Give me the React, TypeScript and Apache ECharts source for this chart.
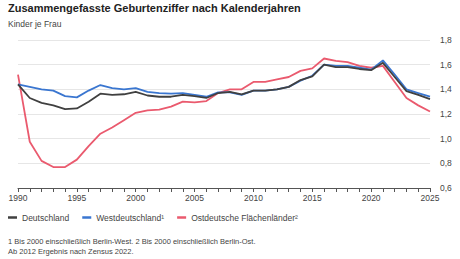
import React, { useEffect, useRef } from "react";
import * as echarts from "echarts";

const years: string[] = [];
for (let y = 1990; y <= 2025; y++) years.push(String(y));

const deutschland = [
  1.44, 1.33, 1.29, 1.27, 1.24, 1.245, 1.3, 1.365, 1.355, 1.36,
  1.38, 1.35, 1.34, 1.34, 1.355, 1.345, 1.33, 1.37, 1.38, 1.36,
  1.39, 1.39, 1.4, 1.42, 1.475, 1.505, 1.6, 1.58, 1.58, 1.565,
  1.555, 1.615, 1.5, 1.385, 1.355, 1.32,
];
const westdeutschland = [
  1.44, 1.42, 1.4, 1.39, 1.345, 1.335, 1.39, 1.435, 1.41, 1.4,
  1.41, 1.38, 1.37, 1.365, 1.37, 1.355, 1.34, 1.375, 1.375, 1.355,
  1.39, 1.39, 1.4, 1.42, 1.47, 1.51, 1.6, 1.59, 1.59, 1.575,
  1.56, 1.635, 1.52, 1.4, 1.37, 1.34,
];
const ostdeutsch = [
  1.52, 0.975, 0.82, 0.77, 0.77, 0.83, 0.94, 1.04, 1.09, 1.15,
  1.21, 1.23, 1.235, 1.26, 1.3, 1.295, 1.305, 1.37, 1.4, 1.4,
  1.46, 1.46, 1.48, 1.5, 1.55, 1.57, 1.65, 1.63, 1.62, 1.59,
  1.575, 1.59, 1.46, 1.33, 1.27, 1.22,
];

const seriesNames = ["Deutschland", "Westdeutschland¹", "Ostdeutsche Flächenländer²"];
const colors = ["#404040", "#3a76d0", "#ea5a6e"];

const title = "Zusammengefasste Geburtenziffer nach Kalenderjahren";
const subtitle = "Kinder je Frau";
const footnote1 = "1 Bis 2000 einschließlich Berlin-West. 2 Bis 2000 einschließlich Berlin-Ost.";
const footnote2 = "Ab 2012 Ergebnis nach Zensus 2022.";

export default function App() {
  const ref = useRef<HTMLDivElement>(null);
  useEffect(() => {
    if (!ref.current) return;
    const chart = echarts.init(ref.current, null, { renderer: "svg" });
    const font = "Liberation Sans, Arial, sans-serif";
    const data = [deutschland, westdeutschland, ostdeutsch];
    chart.setOption({
      animation: false,
      textStyle: { fontFamily: font },
      title: {
        text: title,
        subtext: subtitle,
        left: 8,
        top: 2,
        padding: 0,
        itemGap: 6,
        textStyle: { fontSize: 11, fontWeight: "bold", color: "#222", fontFamily: font },
        subtextStyle: { fontSize: 8.5, color: "#444", fontFamily: font },
      },
      legend: {
        left: 8,
        top: 213,
        padding: 0,
        icon: "rect",
        itemWidth: 9,
        itemHeight: 2.5,
        itemGap: 13,
        textStyle: { fontSize: 8.5, color: "#444" },
        data: seriesNames,
      },
      grid: { left: 18, right: 30, top: 40, bottom: 71 },
      xAxis: {
        type: "category",
        data: years,
        boundaryGap: false,
        axisLine: { lineStyle: { color: "#555", width: 1 } },
        axisTick: { show: true, interval: 0, length: 4, lineStyle: { color: "#555" } },
        axisLabel: {
          interval: (i: number) => i % 5 === 0,
          fontSize: 8.5,
          color: "#444",
          margin: 5,
        },
        splitLine: { show: false },
      },
      yAxis: {
        type: "value",
        position: "right",
        min: 0.6,
        max: 1.8,
        interval: 0.2,
        axisLine: { show: false },
        axisTick: { show: false },
        axisLabel: {
          fontSize: 8.5,
          color: "#444",
          margin: 10,
          formatter: (v: number) => v.toFixed(1).replace(".", ","),
        },
        splitLine: { lineStyle: { color: "#e6e6e6", width: 1 } },
      },
      series: seriesNames.map((name, i) => ({
        name,
        type: "line",
        data: data[i],
        symbol: "none",
        z: 10 - i,
        lineStyle: { color: colors[i], width: 1.8 },
        itemStyle: { color: colors[i] },
      })),
      graphic: [
        {
          type: "text",
          left: 8,
          top: 237,
          style: { text: footnote1, fontSize: 7.5, fill: "#444", fontFamily: font },
        },
        {
          type: "text",
          left: 8,
          top: 247,
          style: { text: footnote2, fontSize: 7.5, fill: "#444", fontFamily: font },
        },
      ],
    });
    return () => chart.dispose();
  }, []);
  return (
    <div
      ref={ref}
      style={{ position: "absolute", left: 0, top: 0, width: 460, height: 259 }}
    />
  );
}
